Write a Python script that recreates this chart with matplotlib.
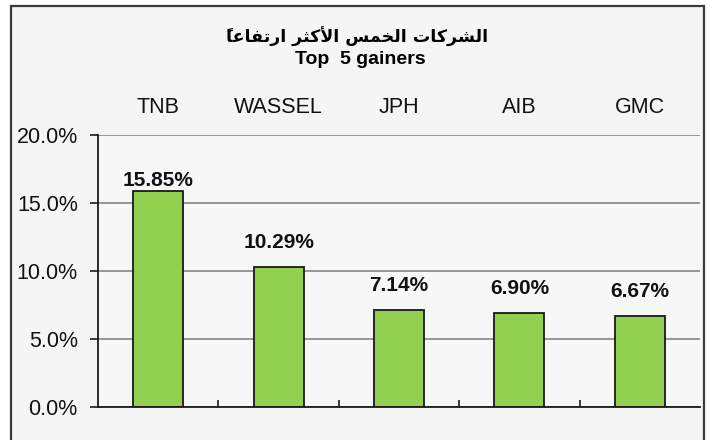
import matplotlib.pyplot as plt
from matplotlib.patches import Rectangle
from matplotlib.ticker import FuncFormatter

companies = ['TNB', 'WASSEL', 'JPH', 'AIB', 'GMC']
gains = [15.85, 10.29, 7.14, 6.90, 6.67]
value_labels = ['15.85%', '10.29%', '7.14%', '6.90%', '6.67%']
y_ticks = [0, 5, 10, 15, 20]

# "الشركات الخمس الأكثر ارتفاعاً" written in presentation forms, visual order
# (matplotlib does not shape arabic itself)
title_ar = ('\u064B\uFE8E\uFECB\uFE8E\uFED4\uFE97\uFEAD\uFE8D '
            '\uFEAE\uFE9C\uFEDB\uFEF7\uFE8D '
            '\uFEB2\uFEE4\uFEA8\uFEDF\uFE8D '
            '\uFE95\uFE8E\uFEDB\uFEAE\uFEB8\uFEDF\uFE8D')
title_en = 'Top  5 gainers'

plt.rcParams['font.family'] = ['Liberation Sans', 'DejaVu Sans']

fig = plt.figure(figsize=(7.1, 4.4), dpi=100, facecolor='white')
fig.patches.append(Rectangle((11 / 710, -0.02), 693 / 710, 1.02 - 6 / 440,
                             transform=fig.transFigure, facecolor='#f5f5f5',
                             edgecolor='#3a3a3a', linewidth=1.6, zorder=-1))

ax = fig.add_axes([98 / 710, 1 - 407 / 440, 602 / 710, 272 / 440])
ax.set_facecolor('#f7f7f7')

x = range(len(companies))
bars = ax.bar(x, gains, width=0.415, color='#92d050', edgecolor='#1a1a1a',
              linewidth=1.3, zorder=3)
# labels sit ~1.8 units above the bar, but never higher than ~16.65 (as in the original)
for b, lab in zip(bars, value_labels):
    ax.text(b.get_x() + b.get_width() / 2, min(b.get_height() + 1.8, 16.65), lab,
            ha='center', va='center', fontsize=15, fontweight='bold',
            color='#111111', zorder=4)

ax.set_xlim(-0.5, len(companies) - 0.5)
ax.set_ylim(0, 20)
ax.set_yticks(y_ticks)
ax.yaxis.set_major_formatter(FuncFormatter(lambda v, p: f'{v:.1f}%'))
ax.grid(axis='y', color='#858585', linewidth=1.2, zorder=1)

ax.set_xticks(list(x))
ax.set_xticklabels(companies)
ax.set_xticks([i + 0.5 for i in range(len(companies) - 1)], minor=True)
ax.tick_params(axis='x', which='major', top=True, labeltop=True, bottom=False,
               labelbottom=False, length=0, pad=12, labelsize=15.5, labelcolor='#111111')
ax.tick_params(axis='x', which='minor', bottom=True, top=False, direction='in',
               length=5, width=1.2, color='#1a1a1a')
ax.tick_params(axis='y', length=6, width=1.2, color='#1a1a1a', pad=8.5,
               labelsize=15.5, labelcolor='#111111')

for s in ['top', 'right']:
    ax.spines[s].set_visible(False)
for s in ['left', 'bottom']:
    ax.spines[s].set_color('#1a1a1a')
    ax.spines[s].set_linewidth(1.3)
    ax.spines[s].set_zorder(4)

fig.text(357 / 710, 1 - 37 / 440, title_ar, ha='center', va='center',
         fontsize=12.5, fontweight='bold', family=['DejaVu Sans'])
fig.text(360 / 710, 1 - 60 / 440, title_en, ha='center', va='center',
         fontsize=14, fontweight='bold')

fig.savefig('out.png', dpi=100)
